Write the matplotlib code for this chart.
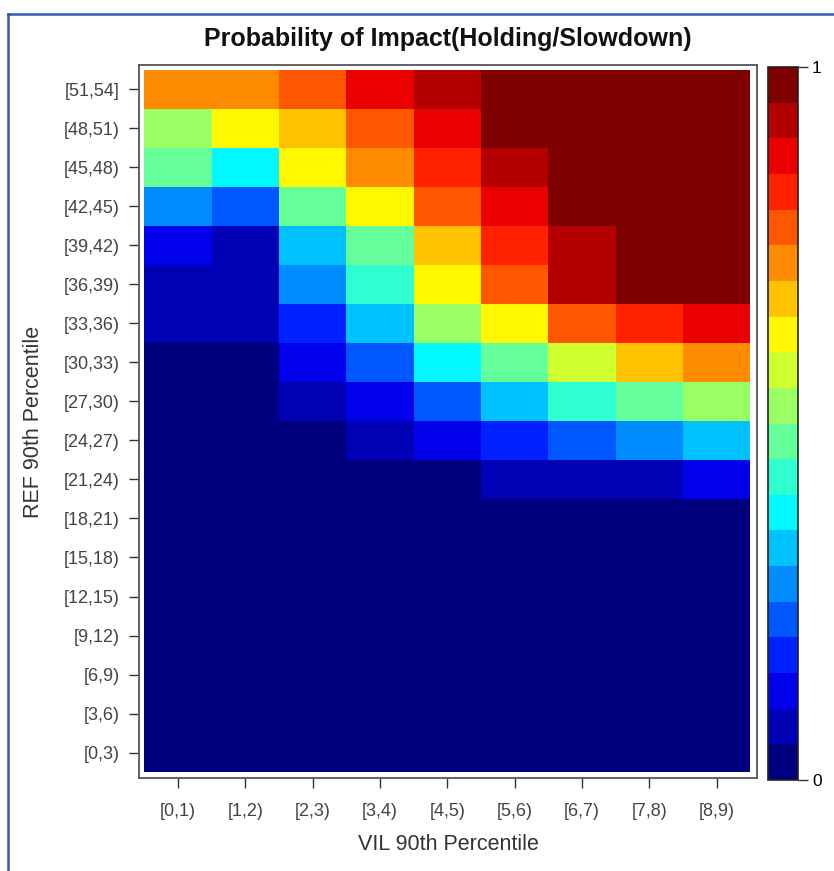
import numpy as np
import matplotlib
matplotlib.use("Agg")
import matplotlib.pyplot as plt
from matplotlib.lines import Line2D
from matplotlib.colors import LinearSegmentedColormap

plt.rcParams['font.family'] = ['Liberation Sans', 'DejaVu Sans']

# VIL 90th percentile bins (columns)
vil_labels = ['[0,1)', '[1,2)', '[2,3)', '[3,4)', '[4,5)', '[5,6)', '[6,7)', '[7,8)', '[8,9)']

# REF 90th percentile bins (rows, bottom to top)
ref_labels = ['[0,3)', '[3,6)', '[6,9)', '[9,12)', '[12,15)', '[15,18)', '[18,21)',
              '[21,24)', '[24,27)', '[27,30)', '[30,33)', '[33,36)', '[36,39)',
              '[39,42)', '[42,45)', '[45,48)', '[48,51)', '[51,54]']

# probability of impact, rows listed top ([51,54]) to bottom ([0,3))
row_51_54 = [0.73, 0.73, 0.78, 0.88, 0.93, 0.98, 0.98, 0.98, 0.98]
row_48_51 = [0.53, 0.63, 0.68, 0.78, 0.88, 0.98, 0.98, 0.98, 0.98]
row_45_48 = [0.48, 0.38, 0.63, 0.73, 0.83, 0.93, 0.98, 0.98, 0.98]
row_42_45 = [0.28, 0.23, 0.48, 0.63, 0.78, 0.88, 0.98, 0.98, 0.98]
row_39_42 = [0.13, 0.08, 0.33, 0.48, 0.68, 0.83, 0.93, 0.98, 0.98]
row_36_39 = [0.08, 0.08, 0.28, 0.43, 0.63, 0.78, 0.93, 0.98, 0.98]
row_33_36 = [0.08, 0.08, 0.18, 0.33, 0.53, 0.63, 0.78, 0.83, 0.88]
row_30_33 = [0.02, 0.02, 0.13, 0.23, 0.38, 0.48, 0.58, 0.68, 0.73]
row_27_30 = [0.02, 0.02, 0.08, 0.13, 0.23, 0.33, 0.43, 0.48, 0.53]
row_24_27 = [0.02, 0.02, 0.02, 0.08, 0.13, 0.18, 0.23, 0.28, 0.33]
row_21_24 = [0.02, 0.02, 0.02, 0.02, 0.02, 0.08, 0.08, 0.08, 0.13]
row_18_21 = [0.02] * 9
row_15_18 = [0.02] * 9
row_12_15 = [0.02] * 9
row_9_12 = [0.02] * 9
row_6_9 = [0.02] * 9
row_3_6 = [0.02] * 9
row_0_3 = [0.02] * 9

rows_top_down = [row_51_54, row_48_51, row_45_48, row_42_45, row_39_42, row_36_39,
                 row_33_36, row_30_33, row_27_30, row_24_27, row_21_24, row_18_21,
                 row_15_18, row_12_15, row_9_12, row_6_9, row_3_6, row_0_3]
prob = np.array(rows_top_down[::-1])

# R style "jet" ramp, 20 discrete steps
jet_anchors = ['#00007F', '#0000FF', '#007FFF', '#00FFFF', '#7FFF7F',
               '#FFFF00', '#FF7F00', '#FF0000', '#7F0000']
cmap = LinearSegmentedColormap.from_list('rjet', jet_anchors, N=20)

fig = plt.figure(figsize=(8.34, 8.71), dpi=100)
ax = fig.add_axes([0.1667, 0.1068, 0.7410, 0.8186])
cax = fig.add_axes([0.9209, 0.1045, 0.0360, 0.8185])

mesh = ax.pcolormesh(np.arange(len(vil_labels) + 1), np.arange(len(ref_labels) + 1), prob,
                     cmap=cmap, vmin=0, vmax=1)

ax.set_xlim(-0.08, len(vil_labels) + 0.1)
ax.set_ylim(-0.15, len(ref_labels) + 0.12)

ax.set_xticks(np.arange(len(vil_labels)) + 0.5)
ax.set_xticklabels(vil_labels)
ax.set_yticks(np.arange(len(ref_labels)) + 0.5)
ax.set_yticklabels(ref_labels)
ax.tick_params(axis='both', which='both', direction='out', length=7, width=1,
               color='#333333', labelcolor='#444444', labelsize=13, pad=7,
               top=False, right=False)
ax.tick_params(axis='x', pad=11)
for s in ax.spines.values():
    s.set_color('#555555')
    s.set_linewidth(1.3)

ax.set_xlabel('VIL 90th Percentile', fontsize=15.5, color='#333333', labelpad=10)
ax.set_ylabel('REF 90th Percentile', fontsize=15.5, color='#333333', labelpad=14)
ax.set_title('Probability of Impact(Holding/Slowdown)', fontsize=18, fontweight='bold',
             color='#111111', pad=14)

cb = fig.colorbar(mesh, cax=cax, ticks=[0, 1])
cb.ax.set_yticklabels(['0', '1'])
cb.ax.tick_params(length=7, width=1, color='#333333', labelsize=12.5, pad=3)
cb.outline.set_edgecolor('#222222')
cb.outline.set_linewidth(1.2)

# blue frame around the picture
fig.add_artist(Line2D([0.0096, 1.0], [0.9839, 0.9839], transform=fig.transFigure,
                      color='#3456b8', linewidth=1.8))
fig.add_artist(Line2D([0.0096, 0.0096], [0.0, 0.9839], transform=fig.transFigure,
                      color='#3456b8', linewidth=1.8))

fig.savefig('out.png', dpi=100)
